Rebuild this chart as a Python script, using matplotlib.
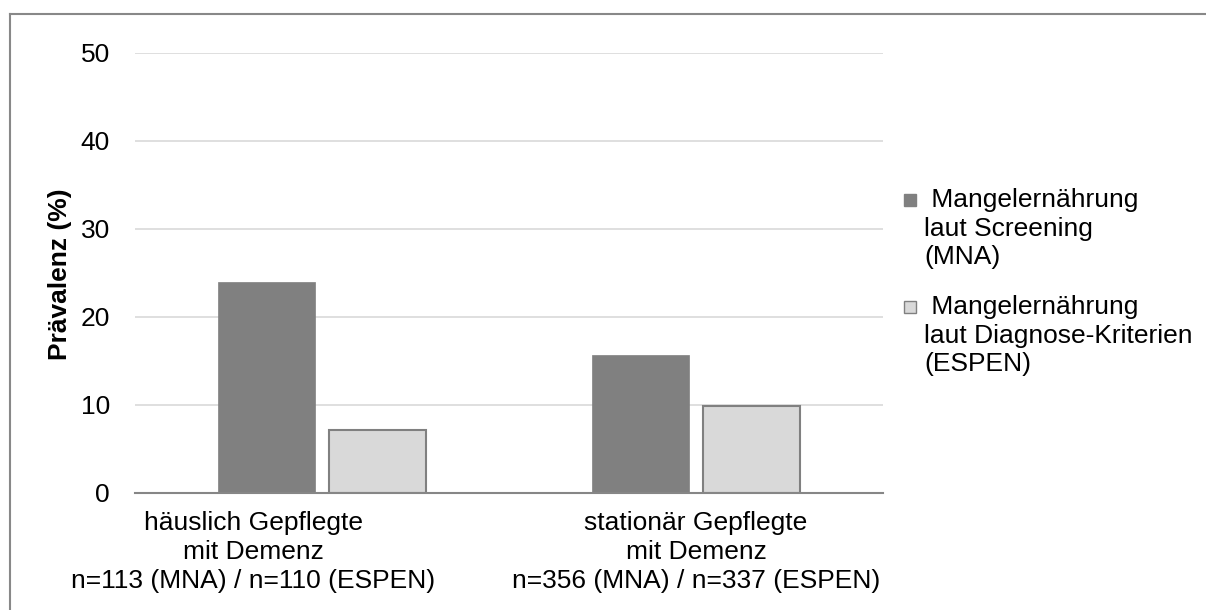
import matplotlib
matplotlib.use("Agg")
import matplotlib.pyplot as plt
import matplotlib.transforms as mtransforms
import numpy as np
from matplotlib.lines import Line2D
from matplotlib.patches import Rectangle

plt.rcParams["font.family"] = ["Liberation Sans", "DejaVu Sans"]

categories = [
    "häuslich Gepflegte\nmit Demenz\nn=113 (MNA) / n=110 (ESPEN)",
    "stationär Gepflegte\nmit Demenz\nn=356 (MNA) / n=337 (ESPEN)",
]
series_names = [
    " Mangelernährung\nlaut Screening\n(MNA)",
    " Mangelernährung\nlaut Diagnose-Kriterien\n(ESPEN)",
]
mna_values = [24.0, 15.7]
espen_values = [7.2, 9.9]
y_ticks = [0, 10, 20, 30, 40, 50]

W, H = 1206, 610
FS = 19
LS = 1.25
fig = plt.figure(figsize=(W / 100, H / 100), dpi=100)
ax = fig.add_axes([135 / W, 1 - 493 / H, (883 - 135) / W, (493 - 53) / H])

x = np.arange(len(categories))
width = 0.26
offset = 0.148
ax.bar(x - offset, mna_values, width, color="#808080", edgecolor="#808080",
       linewidth=0.5, zorder=3)
ax.bar(x + offset, espen_values, width, color="#d9d9d9", edgecolor="#808080",
       linewidth=1.5, zorder=3)

ax.set_xlim(-0.5, len(categories) - 0.5)
ax.set_ylim(0, 50)
ax.set_yticks(y_ticks)
ax.set_yticklabels([str(t) for t in y_ticks], fontsize=FS)
ax.set_xticks(x)
ax.set_xticklabels(categories, fontsize=FS, linespacing=LS)
ax.tick_params(axis="both", length=0)
ax.tick_params(axis="y", pad=18)
ax.tick_params(axis="x", pad=13)

# the left label is pushed towards the edge so its long last line fits
first = ax.get_xticklabels()[0]
first.set_transform(first.get_transform() +
                    mtransforms.ScaledTranslation(-0.69, 0, fig.dpi_scale_trans))

ax.grid(axis="y", color="#d9d9d9", linewidth=1.2, zorder=0)
for side in ["left", "right", "top"]:
    ax.spines[side].set_visible(False)
ax.spines["bottom"].set_color("#868686")
ax.spines["bottom"].set_linewidth(1.5)
ax.spines["bottom"].set_zorder(4)

fig.text(60 / W, 1 - 274 / H, "Prävalenz (%)", rotation=90, fontsize=FS,
         fontweight="bold", ha="center", va="center")

# legend drawn by hand so the marker sits on the first text line
legend_colors = ["#808080", "#d9d9d9"]
legend_tops = [188, 295]
for name, color, top in zip(series_names, legend_colors, legend_tops):
    fig.patches.append(Rectangle((904 / W, 1 - (top + 18) / H), 12 / W, 12 / H,
                                 transform=fig.transFigure, facecolor=color,
                                 edgecolor="#808080", linewidth=1))
    fig.text(924 / W, 1 - top / H, name, fontsize=FS, ha="left", va="top",
             linespacing=LS)

# outer frame (left and top only)
frame_kw = dict(transform=fig.transFigure, color="#888888", linewidth=1.5)
fig.add_artist(Line2D([10 / W, 10 / W], [0, 1 - 14 / H], **frame_kw))
fig.add_artist(Line2D([10 / W, 1], [1 - 14 / H, 1 - 14 / H], **frame_kw))

fig.savefig("out.png", dpi=100)
